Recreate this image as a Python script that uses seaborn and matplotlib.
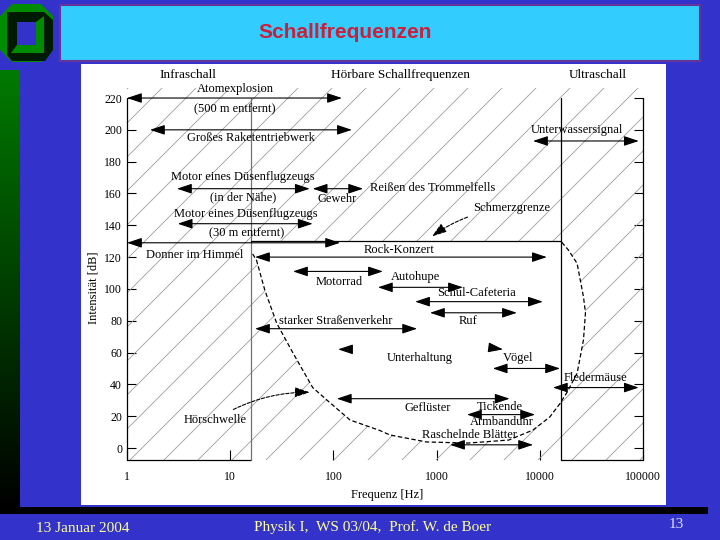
import numpy as np
import matplotlib
matplotlib.use('Agg')
import matplotlib.pyplot as plt
import matplotlib.patches as mpatches
from matplotlib.colors import LinearSegmentedColormap
from matplotlib.ticker import NullLocator
import seaborn as sns

sns.set_style('white')
plt.rcParams['font.family'] = ['Liberation Serif', 'DejaVu Serif']
plt.rcParams['text.color'] = 'black'
plt.rcParams['axes.labelcolor'] = 'black'
plt.rcParams['xtick.color'] = 'black'
plt.rcParams['ytick.color'] = 'black'

# Hoerschwelle + Grenze des Hoerbereichs (Hz, dB)
curve_f = [16.5, 18, 21.7, 28.2, 40.6, 63, 87, 145, 282, 352, 800, 2000,
           5000, 8600, 12500, 15700, 18200, 23000, 26500, 27700, 26500, 23000,
           18900, 16000]
curve_db = [122, 118, 99, 78.5, 59.7, 38, 30, 17.6, 11, 8.2, 3.8, 3.1,
            5, 11.3, 19.5, 28, 34.6, 47, 68, 85, 95, 116, 124.5, 130]

f_infra = 16
f_ultra = 16000
db_pain = 130
db_top = 220

# Doppelpfeile: untere / obere Frequenz, Pegel
f_lo = [1, 1.67, 3.05, 63, 3.1, 1, 17.4, 8600, 40.6, 270, 619, 863, 17.4,
        3500, 13400, 108, 1970, 1350]
f_hi = [121, 151, 59, 194, 63, 116, 11700, 91000, 302, 1800, 10700, 6000,
        647, 15700, 91000, 5100, 9000, 8600]
arr_db = [220, 200, 163, 163, 141, 129, 120, 193, 111, 101, 92, 85, 75,
          50, 38, 31, 21, 2]

# Unterhaltung: nur Pfeilspitzen
talk_f = [111, 4400]
talk_db = 62

label_text = ['Atomexplosion', '(500 m entfernt)', 'Großes Raketentriebwerk',
              'Motor eines Düsenflugzeugs', '(in der Nähe)', 'Gewehr',
              'Reißen des Trommelfells', 'Motor eines Düsenflugzeugs',
              '(30 m entfernt)', 'Donner im Himmel', 'Rock-Konzert',
              'Unterwassersignal', 'Motorrad', 'Autohupe', 'Schul-Cafeteria',
              'Ruf', 'starker Straßenverkehr', 'Unterhaltung', 'Vögel',
              'Fledermäuse', 'Geflüster', 'Tickende', 'Armbanduhr',
              'Raschelnde Blätter']
label_f = [11.1, 11.1, 15.9, 13.3, 13.3, 108, 923, 14.3, 14.3, 4.56, 432,
           23000, 113, 619, 2460, 2000, 106, 692, 6100, 34500, 827, 4100,
           4300, 2100]
label_db = [225.6, 213, 194.8, 170.3, 157.8, 156.5, 163.4, 147, 135, 121.3,
            124.5, 199.9, 104.3, 107.5, 97.4, 79.8, 79.8, 56.6, 56.6, 44,
            25.1, 25.8, 16.3, 8.2]

region_names = ['Infraschall', 'Hörbare Schallfrequenzen', 'Ultraschall']
region_f = [3.9, 443, 36600]

x_ticks = [1, 10, 100, 1000, 10000, 100000]
x_tick_labels = ['1', '10', '100', '1000', '10000', '100000']
y_ticks = [0, 20, 40, 60, 80, 100, 120, 140, 160, 180, 200, 220]

W, H = 720, 540
fig = plt.figure(figsize=(W / 100, H / 100), dpi=100)
fig.patch.set_facecolor('#3333cc')

# slide background (pixel coords)
bg = fig.add_axes([0, 0, 1, 1])
bg.axis('off')
grad = np.linspace(0, 1, 256).reshape(-1, 1)
bg.imshow(grad, extent=[0, 20, 507, 70], aspect='auto',
          cmap=LinearSegmentedColormap.from_list('strip', ['#007a00', '#000000']))
bg.add_patch(mpatches.Rectangle((0, 507), 708, 7, fc='black', ec='none'))
bg.add_patch(mpatches.Rectangle((60, 5), 640, 56, fc='#33ccff', ec='#663399', lw=1.5))
bg.add_patch(mpatches.Rectangle((81, 64), 585, 441, fc='white', ec='none'))
# logo
bg.add_patch(mpatches.Polygon([(12, 4), (41, 4), (53, 16), (53, 50), (41, 62),
                               (12, 62), (0, 50), (0, 16)], fc='#008c00', ec='none'))
bg.add_patch(mpatches.Polygon([(7, 12), (44, 12), (53, 20), (53, 50), (45, 61),
                               (12, 61), (7, 55)], fc='#001a00', ec='none'))
bg.add_patch(mpatches.Polygon([(17, 45), (36, 45), (36, 22), (44, 16), (44, 53),
                               (11, 53)], fc='#008c00', ec='none'))
bg.add_patch(mpatches.Rectangle((17, 22), 19, 23, fc='#3333cc', ec='none'))
bg.text(345, 32, 'Schallfrequenzen', color='#cc1f3a', fontsize=15,
        fontweight='bold', family=['Liberation Sans'], ha='center', va='center')
bg.text(83, 528, '13 Januar 2004', color='#ffff99', fontsize=11,
        ha='center', va='center')
bg.text(373, 527, 'Physik I,  WS 03/04,  Prof. W. de Boer', color='#ffff99',
        fontsize=11, ha='center', va='center')
bg.text(676, 525, '13', color='#e0e0ff', fontsize=11, ha='center', va='center')
bg.set_xlim(0, W)
bg.set_ylim(H, 0)

# chart axes, placed on the white panel
ax_l, ax_r, ax_b, ax_t = 127, 643, 460, 88
ax = fig.add_axes([ax_l / W, 1 - ax_b / H, (ax_r - ax_l) / W, (ax_b - ax_t) / H])
ax.patch.set_visible(False)
ax.set_xscale('log')
ax.set_xlim(1, 100000)
ax.set_ylim(-7.54, 226.3)
for s in ax.spines.values():
    s.set_visible(False)

# hatch lines (45 deg in pixel space)
aw, ah = ax_r - ax_l, ax_b - ax_t
for c in np.arange(-ah + 1, aw, 34):
    ax.plot([c / aw, (c + ah) / aw], [0, 1], transform=ax.transAxes,
            color='0.62', lw=0.6, zorder=1)

# audible area: white, no hatching
poly_f = curve_f + [f_infra, f_infra]
poly_db = curve_db + [db_pain, curve_db[0]]
ax.fill(poly_f, poly_db, color='white', zorder=2, lw=0)

sns.lineplot(x=curve_f, y=curve_db, sort=False, estimator=None, ax=ax,
             color='black', lw=0.9, linestyle=(0, (3.5, 2)), zorder=3)

y0 = ax.get_ylim()[0]
frame_kw = dict(color='black', lw=0.9, zorder=3, clip_on=False)
ax.plot([1, 1], [y0, db_top], **frame_kw)
ax.plot([100000, 100000], [y0, db_top], **frame_kw)
ax.plot([1, f_infra], [y0, y0], **frame_kw)
ax.plot([f_ultra, 100000], [y0, y0], **frame_kw)
ax.plot([f_ultra, f_ultra], [y0, db_top], **frame_kw)
ax.plot([f_infra, f_infra], [y0, db_top], color='0.45', lw=0.9, zorder=3, clip_on=False)
ax.plot([f_infra, f_ultra], [db_pain, db_pain], **frame_kw)

arrow_kw = dict(arrowstyle='<|-|>,head_length=0.9,head_width=0.3', color='black',
                lw=0.8, mutation_scale=10, shrinkA=0, shrinkB=0)
for lo, hi, db in zip(f_lo, f_hi, arr_db):
    ax.annotate('', xy=(hi, db), xytext=(lo, db), arrowprops=arrow_kw,
                annotation_clip=False, zorder=4)

one_head = dict(arrowstyle='-|>,head_length=0.9,head_width=0.3', color='black',
                lw=0.8, mutation_scale=10, shrinkA=0, shrinkB=0)
ax.annotate('', xy=(talk_f[0], talk_db), xytext=(talk_f[0] * 1.3, talk_db),
            arrowprops=one_head, zorder=4)
ax.annotate('', xy=(talk_f[1], talk_db), xytext=(talk_f[1] / 1.3, talk_db + 1),
            arrowprops=one_head, zorder=4)

for txt, f, db in zip(label_text, label_f, label_db):
    ax.text(f, db, txt, ha='center', va='center', fontsize=9, zorder=5,
            clip_on=False)

for txt, f in zip(region_names, region_f):
    ax.text(f, 234.5, txt, ha='center', va='center', fontsize=9.5, clip_on=False)

curly = dict(arrowstyle='-|>,head_length=0.9,head_width=0.3', color='black',
             lw=0.8, mutation_scale=10, linestyle=(0, (3, 1.5)), shrinkB=0)
ax.annotate('Schmerzgrenze', xy=(902, 133), xytext=(5370, 150.8),
            ha='center', va='center', fontsize=9, zorder=5,
            arrowprops=dict(curly, connectionstyle='arc3,rad=0.15'))
ax.annotate('Hörschwelle', xy=(59, 35), xytext=(7.1, 17.6),
            ha='center', va='center', fontsize=9, zorder=5,
            arrowprops=dict(curly, connectionstyle='arc3,rad=-0.15'))

ax.set_xticks(x_ticks)
ax.set_xticklabels(x_tick_labels)
ax.xaxis.set_minor_locator(NullLocator())
ax.set_yticks(y_ticks)
ax.tick_params(axis='x', bottom=True, direction='in', length=7, width=0.8,
               pad=8, labelsize=8.5)
ax.tick_params(axis='y', left=True, right=True, labelright=False,
               direction='in', length=6.5, width=0.8, pad=3.5, labelsize=8.5)
ax.set_xlabel('Frequenz [Hz]', fontsize=9)
ax.set_ylabel('Intensität [dB]', fontsize=9)
ax.xaxis.set_label_coords(0.504, -0.077)
ax.yaxis.set_label_coords(-0.054, 0.462)

fig.savefig('out.png', dpi=100, facecolor=fig.get_facecolor())
